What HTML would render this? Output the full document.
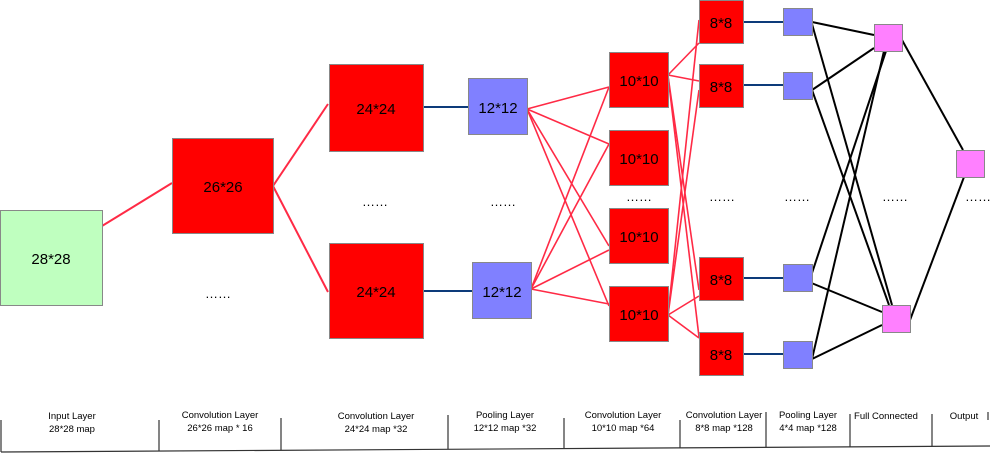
<!DOCTYPE html>
<html><head><meta charset="utf-8"><style>
html,body{margin:0;padding:0;background:#fff;}
svg{display:block;font-family:"Liberation Sans",Arial,sans-serif;}
</style></head><body>
<svg width="998" height="453" viewBox="0 0 998 453" xmlns="http://www.w3.org/2000/svg">
<g stroke="#ff2a45" stroke-width="2" fill="none">
<line x1="102" y1="226" x2="172" y2="183"/>
<line x1="273" y1="186" x2="328" y2="104"/>
<line x1="273" y1="186" x2="328" y2="292"/>
<g stroke-width="1.6">
<line x1="527" y1="109" x2="609" y2="87"/>
<line x1="527" y1="109" x2="609" y2="144"/>
<line x1="527" y1="109" x2="609" y2="246"/>
<line x1="527" y1="109" x2="609" y2="306"/>
<line x1="531" y1="289" x2="609" y2="87"/>
<line x1="531" y1="289" x2="609" y2="144"/>
<line x1="531" y1="289" x2="609" y2="250"/>
<line x1="531" y1="289" x2="609" y2="304"/>
<line x1="668" y1="75" x2="699" y2="43"/>
<line x1="668" y1="75" x2="699" y2="81"/>
<line x1="668" y1="76" x2="699" y2="290"/>
<line x1="668" y1="76" x2="699" y2="337"/>
<line x1="668" y1="315" x2="699" y2="20"/>
<line x1="668" y1="315" x2="699" y2="90"/>
<line x1="668" y1="315" x2="699" y2="296"/>
<line x1="668" y1="315" x2="699" y2="338"/>
</g></g>
<g stroke="#0d3b7a" stroke-width="2">
<line x1="423" y1="107" x2="468" y2="107"/>
<line x1="423" y1="291" x2="472" y2="291"/>
<line x1="743" y1="22" x2="783" y2="22"/>
<line x1="743" y1="85" x2="783" y2="85"/>
<line x1="743" y1="278" x2="783" y2="278"/>
<line x1="743" y1="354" x2="783" y2="354"/>
</g>
<g stroke="#000" stroke-width="2">
<line x1="812" y1="22" x2="874" y2="35"/>
<line x1="812" y1="24" x2="892" y2="305"/>
<line x1="812" y1="90" x2="874" y2="48"/>
<line x1="812" y1="90" x2="889" y2="305"/>
<line x1="809" y1="282" x2="886" y2="51"/>
<line x1="809" y1="282" x2="882" y2="312"/>
<line x1="812" y1="359" x2="884" y2="51"/>
<line x1="812" y1="359" x2="882" y2="325"/>
<line x1="902" y1="40" x2="963" y2="150"/>
<line x1="910" y1="320" x2="964" y2="177"/>
</g>
<g stroke="#888" stroke-width="1">
<rect x="0.5" y="210.5" width="102" height="95" fill="#bfffbf"/>
<rect x="172.5" y="138.5" width="101" height="95" fill="#ff0000"/>
<rect x="329.5" y="64.5" width="94" height="87" fill="#ff0000"/>
<rect x="329.5" y="243.5" width="94" height="95" fill="#ff0000"/>
<rect x="468.5" y="78.5" width="59" height="56" fill="#8080ff"/>
<rect x="472.5" y="262.5" width="59" height="56" fill="#8080ff"/>
<rect x="609.5" y="52.5" width="59" height="55" fill="#ff0000"/>
<rect x="609.5" y="130.5" width="59" height="55" fill="#ff0000"/>
<rect x="609.5" y="208.5" width="59" height="55" fill="#ff0000"/>
<rect x="609.5" y="286.5" width="59" height="55" fill="#ff0000"/>
<rect x="699.5" y="0.5" width="44" height="43" fill="#ff0000"/>
<rect x="699.5" y="64.5" width="44" height="43" fill="#ff0000"/>
<rect x="699.5" y="257.5" width="44" height="43" fill="#ff0000"/>
<rect x="699.5" y="332.5" width="44" height="43" fill="#ff0000"/>
<rect x="783.5" y="8.5" width="29" height="27" fill="#8080ff"/>
<rect x="783.5" y="72.5" width="29" height="27" fill="#8080ff"/>
<rect x="783.5" y="264.5" width="29" height="27" fill="#8080ff"/>
<rect x="783.5" y="341.5" width="29" height="27" fill="#8080ff"/>
<rect x="874.5" y="24.5" width="28" height="27" fill="#ff80ff"/>
<rect x="882.5" y="305.5" width="28" height="27" fill="#ff80ff"/>
<rect x="956.5" y="150.5" width="28" height="27" fill="#ff80ff"/>
</g>
<g font-size="15" text-anchor="middle" fill="#000">
<text x="51" y="264">28*28</text>
<text x="223" y="192">26*26</text>
<text x="376" y="114">24*24</text>
<text x="376" y="297">24*24</text>
<text x="498" y="113">12*12</text>
<text x="502" y="297">12*12</text>
<text x="639" y="86">10*10</text>
<text x="639" y="164">10*10</text>
<text x="639" y="242">10*10</text>
<text x="639" y="320">10*10</text>
<text x="721" y="28">8*8</text>
<text x="721" y="92">8*8</text>
<text x="721" y="285">8*8</text>
<text x="721" y="360">8*8</text>
</g>
<g font-size="13" text-anchor="middle" fill="#000">
<text x="218" y="298">……</text>
<text x="375" y="206">……</text>
<text x="503" y="206">……</text>
<text x="639" y="201">……</text>
<text x="722" y="201">……</text>
<text x="797" y="201">……</text>
<text x="895" y="201">……</text>
<text x="978" y="201">……</text>
</g>
<g font-size="9.5" text-anchor="middle" fill="#000">
<text x="72" y="419">Input Layer</text><text x="72" y="432">28*28 map</text>
<text x="220" y="418">Convolution Layer</text><text x="220" y="431">26*26 map * 16</text>
<text x="376" y="419">Convolution Layer</text><text x="376" y="432">24*24 map *32</text>
<text x="505" y="418">Pooling Layer</text><text x="505" y="431">12*12 map *32</text>
<text x="623" y="418">Convolution Layer</text><text x="623" y="431">10*10 map *64</text>
<text x="724" y="418">Convolution Layer</text><text x="724" y="431">8*8 map *128</text>
<text x="808" y="418">Pooling Layer</text><text x="808" y="431">4*4 map *128</text>
<text x="886" y="419">Full Connected</text>
<text x="964" y="419">Output</text>
</g>
<g stroke="#333" stroke-width="1.2">
<line x1="1" y1="452" x2="990" y2="446"/>
<line x1="1" y1="420" x2="1" y2="452"/>
<line x1="159" y1="420" x2="159" y2="451"/>
<line x1="281" y1="418" x2="281" y2="450"/>
<line x1="448" y1="415" x2="448" y2="449"/>
<line x1="564" y1="418" x2="564" y2="449"/>
<line x1="680" y1="420" x2="680" y2="448"/>
<line x1="766" y1="412" x2="766" y2="447"/>
<line x1="850" y1="414" x2="850" y2="447"/>
<line x1="932" y1="414" x2="932" y2="446"/>
<line x1="988" y1="412" x2="988" y2="420"/>
</g>
</svg>
</body></html>
